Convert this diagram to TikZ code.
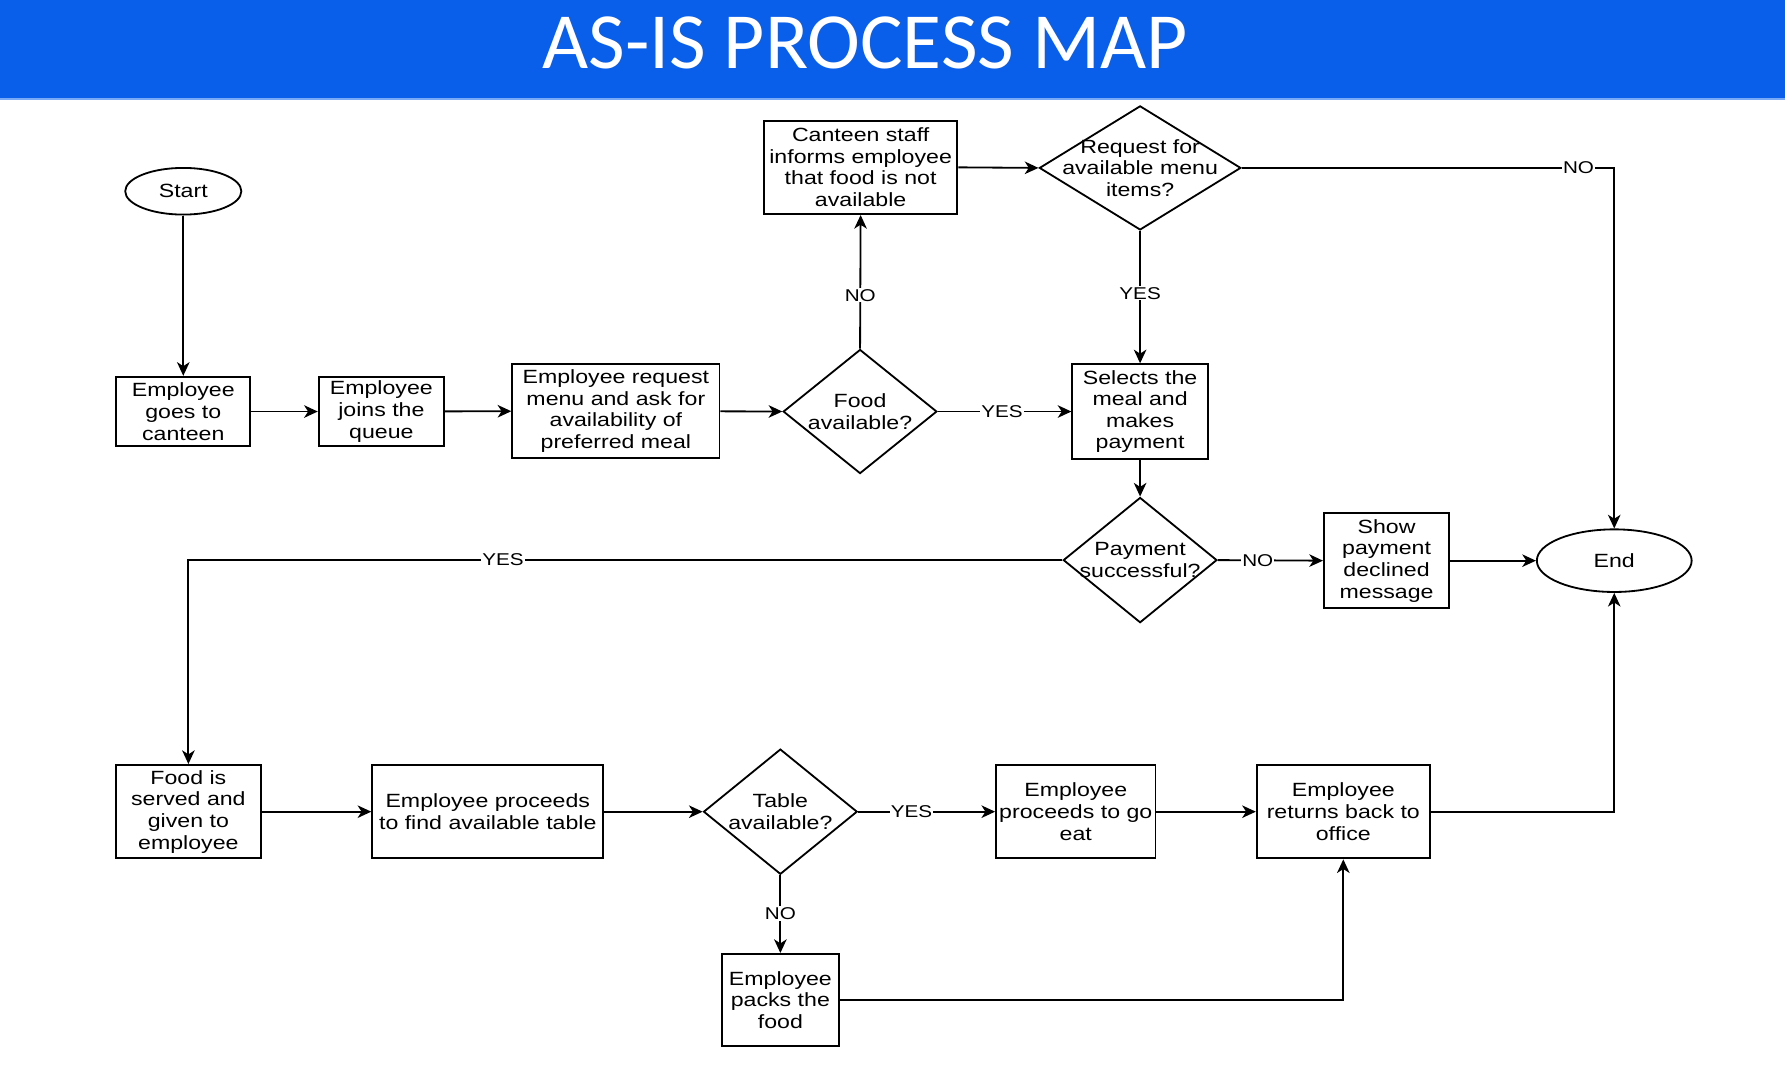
\documentclass[tikz,border=0pt]{standalone}
\usepackage{fontspec}
\setmainfont{Liberation Sans}[FakeStretch=1.21]
\newfontfamily\titlefont{Carlito}
\usetikzlibrary{shapes.geometric,arrows.meta}
\definecolor{titleblue}{RGB}{9,94,234}
\definecolor{titleline}{RGB}{120,170,245}
\newcommand{\mynodefont}{\fontsize{16.8}{19}\selectfont}
\newcommand{\mylblfont}{\fontsize{15}{16}\selectfont}
\begin{document}
\begin{tikzpicture}[x=1pt,y=-1pt,
  box/.style={draw, line width=1.7pt, rectangle, inner sep=0pt, align=center, font=\mynodefont},
  decision/.style={draw, diamond, line width=1.6pt, inner sep=0pt},
  dtext/.style={align=center, font=\mynodefont},
  term/.style={draw, ellipse, line width=1.6pt, inner sep=0pt, font=\mynodefont},
  arr/.style={line width=1.6pt, -{Stealth[length=12pt,width=11pt,inset=3.5pt]}},
  lbl/.style={fill=white, inner sep=1pt, font=\mylblfont}]
\useasboundingbox (0,0) rectangle (1568,947.8);
\fill[titleblue] (0,0) rectangle (1568,87);
\fill[titleline] (0,86) rectangle (1568,88);
\node[font=\titlefont\fontsize{70}{70}\selectfont, text=white, inner sep=0pt] (title) at (760,37.5) {AS-IS PROCESS MAP};

% nodes
\node[term, minimum width=102pt, minimum height=41pt] (start) at (161,168) {Start};
\node[box, minimum width=118pt, minimum height=61pt] (goes) at (161,361.5) {Employee\\goes to\\canteen};
\node[box, minimum width=110pt, minimum height=61pt] (joins) at (335,361.5) {Employee\\joins the\\queue};
\node[box, minimum width=182pt, minimum height=82pt] (req) at (541,361) {Employee request\\menu and ask for\\availability of\\preferred meal};
\node[decision, minimum width=135pt, minimum height=109pt, label={[dtext]center:{Food\\available?}}] (food) at (755.5,361.5) {};
\node[box, minimum width=170pt, minimum height=82pt] (canteen) at (756,147) {Canteen staff\\informs employee\\that food is not\\available};
\node[decision, minimum width=177pt, minimum height=109pt, label={[dtext]center:{Request for\\available menu\\items?}}] (menu) at (1001.5,147.5) {};
\node[box, minimum width=119pt, minimum height=83pt] (sel) at (1001.5,361.5) {Selects the\\meal and\\makes\\payment};
\node[decision, minimum width=135pt, minimum height=110pt, label={[dtext]center:{Payment\\successful?}}] (pay) at (1001.5,492) {};
\node[box, minimum width=110pt, minimum height=83pt] (decl) at (1218,492.5) {Show\\payment\\declined\\message};
\node[term, minimum width=136pt, minimum height=55pt] (end) at (1418,492.5) {End};
\node[box, minimum width=127pt, minimum height=82pt] (served) at (165.5,713) {Food is\\served and\\given to\\employee};
\node[box, minimum width=203pt, minimum height=82pt] (find) at (428.5,713) {Employee proceeds\\to find available table};
\node[decision, minimum width=135pt, minimum height=110pt, label={[dtext]center:{Table\\available?}}] (table) at (685.5,713) {};
\node[box, minimum width=140pt, minimum height=82pt] (goeat) at (945,713) {Employee\\proceeds to go\\eat};
\node[box, minimum width=152pt, minimum height=82pt] (ret) at (1180,713) {Employee\\returns back to\\office};
\node[box, minimum width=103pt, minimum height=81pt] (packs) at (685.5,878.5) {Employee\\packs the\\food};

% connectors
\draw[arr] (start) -- (goes);
\draw[arr] (goes) -- (joins);
\draw[arr] (joins) -- (req);
\draw[arr] (req) -- (food.west);
\draw[arr] (food.north) -- node[lbl, pos=0.4] {NO} (canteen.south);
\draw[arr] (food.east) -- node[lbl, pos=0.48] {YES} (sel.west);
\draw[arr] (canteen.east) -- (menu.west);
\draw[arr] (menu.south) -- node[lbl, pos=0.47] {YES} (sel.north);
\draw[arr] (menu.east) -| node[lbl, pos=0.452] {NO} (end.north);
\draw[arr] (sel) -- (pay.north);
\draw[arr] (pay.east) -- node[lbl, pos=0.38] {NO} (decl.west);
\draw[arr] (decl) -- (end);
\draw[arr] (pay.west) -| node[lbl, pos=0.32] {YES} (served.north);
\draw[arr] (served) -- (find);
\draw[arr] (find) -- (table.west);
\draw[arr] (table.east) -- node[lbl, pos=0.39] {YES} (goeat.west);
\draw[arr] (table.south) -- node[lbl, pos=0.49] {NO} (packs.north);
\draw[arr] (goeat) -- (ret);
\draw[arr] (packs.east) -| (ret.south);
\draw[arr] (ret.east) -| (end.south);
\end{tikzpicture}
\end{document}
